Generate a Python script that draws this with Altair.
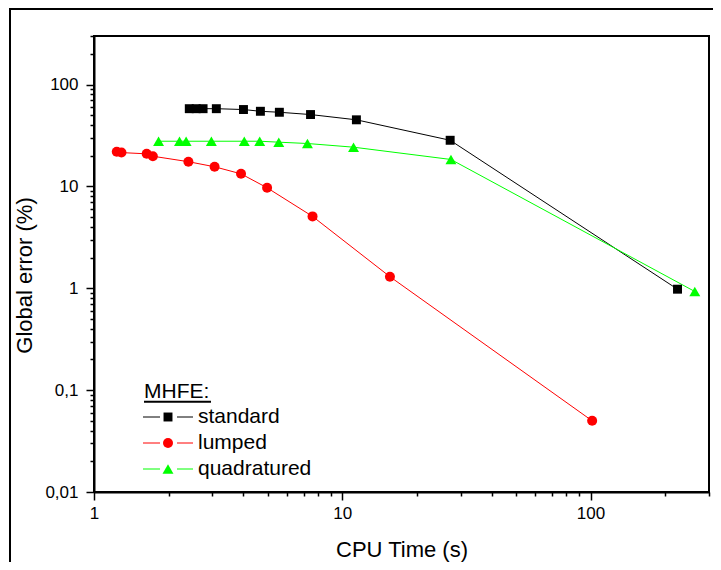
import altair as alt
import pandas as pd

series_names = ["standard", "lumped", "quadratured"]
legend_title = "MHFE:"

standard_t = [2.42, 2.58, 2.75, 3.11, 4.0, 4.68, 5.58, 7.45, 11.4, 27.2, 224]
standard_e = [58.0, 58.0, 58.0, 58.0, 56.9, 54.7, 53.5, 50.8, 45.1, 28.4, 0.98]

lumped_t = [1.235, 1.29, 1.63, 1.726, 2.40, 3.06, 3.91, 4.98, 7.59, 15.56, 101.5]
lumped_e = [21.9, 21.5, 20.9, 19.8, 17.5, 15.6, 13.3, 9.7, 5.08, 1.30, 0.050]

quad_t = [1.82, 2.21, 2.35, 2.97, 4.03, 4.65, 5.55, 7.24, 11.1, 27.4, 263]
quad_e = [27.8, 27.8, 27.8, 27.8, 27.8, 27.8, 27.2, 26.4, 24.3, 18.4, 0.93]

x_ticks = [1, 2, 3, 4, 5, 6, 7, 8, 9, 10, 20, 30, 40, 50, 60, 70, 80, 90, 100, 200, 300]
x_major = [1, 10, 100]
y_ticks = [0.01, 0.02, 0.03, 0.04, 0.05, 0.06, 0.07, 0.08, 0.09,
           0.1, 0.2, 0.3, 0.4, 0.5, 0.6, 0.7, 0.8, 0.9,
           1, 2, 3, 4, 5, 6, 7, 8, 9,
           10, 20, 30, 40, 50, 60, 70, 80, 90,
           100, 200, 300]
y_major = [0.01, 0.1, 1, 10, 100]

rows = []
for name, ts, es in [("standard", standard_t, standard_e),
                     ("lumped", lumped_t, lumped_e),
                     ("quadratured", quad_t, quad_e)]:
    for t, e in zip(ts, es):
        rows.append({"series": name, "t": t, "e": e})
df = pd.DataFrame(rows)

FONT = "Liberation Sans"
colors = ["#000000", "#ff0000", "#00ff00"]
color_scale = alt.Scale(domain=series_names, range=colors)
shape_scale = alt.Scale(domain=series_names, range=["square", "circle", "triangle-up"])
size_scale = alt.Scale(domain=series_names, range=[80, 120, 150])

x_major_js = "[" + ",".join(str(v) for v in x_major) + "]"
y_major_js = "[" + ",".join(str(v) for v in y_major) + "]"

x_axis = alt.Axis(
    values=x_ticks,
    title="CPU Time (s)",
    labelExpr=f"indexof({x_major_js}, datum.value) >= 0 ? toString(datum.value) : ''",
    tickSize={"condition": {"test": f"indexof({x_major_js}, datum.value) >= 0", "value": 8}, "value": 4},
    labelPadding=5,
    labelFontSize=17,
    titleFontSize=22,
    titleFontWeight="normal",
    titleY=57,
    titleBaseline="middle",
    grid=False,
    labelFlush=False,
    labelOverlap=False,
)
y_axis = alt.Axis(
    values=y_ticks,
    title="Global error (%)",
    labelExpr=f"indexof({y_major_js}, datum.value) >= 0 ? replace(toString(datum.value), '.', ',') : ''",
    tickSize={"condition": {"test": f"indexof({y_major_js}, datum.value) >= 0", "value": 8}, "value": 4},
    labelPadding=8,
    labelFontSize=17,
    titleFontSize=22,
    titleFontWeight="normal",
    titleX=-70,
    titleY=239,
    titleAlign="center",
    titleBaseline="middle",
    grid=False,
    labelFlush=False,
    labelOverlap=False,
)

xs = alt.Scale(type="log", domain=[1, 300], nice=False)
ys = alt.Scale(type="log", domain=[0.01, 300], nice=False)

base = alt.Chart(df)
lines = base.mark_line(strokeWidth=1).encode(
    x=alt.X("t:Q", scale=xs, axis=x_axis),
    y=alt.Y("e:Q", scale=ys, axis=y_axis),
    color=alt.Color("series:N", scale=color_scale, legend=None),
)
points = base.mark_point(filled=True, opacity=1).encode(
    x=alt.X("t:Q", scale=xs),
    y=alt.Y("e:Q", scale=ys),
    color=alt.Color("series:N", scale=color_scale, legend=None),
    shape=alt.Shape("series:N", scale=shape_scale, legend=None),
    size=alt.Size("series:N", scale=size_scale, legend=None),
)
data_layer = alt.layer(lines, points)

leg_df = pd.DataFrame({"series": series_names})
ly = alt.Y("series:N", axis=None,
           scale=alt.Scale(type="point", domain=series_names, range=[381, 433], padding=0))
leg_base = alt.Chart(leg_df)
leg_l1 = leg_base.mark_rule(strokeWidth=1).encode(
    x=alt.value(49), x2=alt.value(66), y=ly,
    color=alt.Color("series:N", scale=color_scale, legend=None))
leg_l2 = leg_base.mark_rule(strokeWidth=1).encode(
    x=alt.value(83), x2=alt.value(99), y=ly,
    color=alt.Color("series:N", scale=color_scale, legend=None))
leg_pts = leg_base.mark_point(filled=True, opacity=1).encode(
    x=alt.value(74), y=ly,
    color=alt.Color("series:N", scale=color_scale, legend=None),
    shape=alt.Shape("series:N", scale=shape_scale, legend=None),
    size=alt.Size("series:N", scale=size_scale, legend=None))
leg_txt = leg_base.mark_text(align="left", baseline="middle", fontSize=21, font=FONT, color="black").encode(
    x=alt.value(104), y=ly, text="series:N")
title_df = pd.DataFrame({"t": [legend_title]})
leg_title = alt.Chart(title_df).mark_text(align="left", baseline="middle", fontSize=21, font=FONT, color="black").encode(
    x=alt.value(50), y=alt.value(355.5), text="t:N")
leg_under = alt.Chart(title_df).mark_rule(strokeWidth=2, color="black").encode(
    x=alt.value(50), x2=alt.value(117), y=alt.value(365.7))
frame_left = alt.Chart(title_df).mark_rule(strokeWidth=2, color="black").encode(
    x=alt.value(-84), y=alt.value(-28), y2=alt.value(700))
frame_top = alt.Chart(title_df).mark_rule(strokeWidth=2, color="black").encode(
    x=alt.value(-85), x2=alt.value(800), y=alt.value(-27))

legend_layer = alt.layer(leg_l1, leg_l2, leg_pts, leg_txt, leg_title, leg_under, frame_left, frame_top)

chart = alt.layer(data_layer, legend_layer).resolve_scale(y="independent").properties(
    width=615,
    height=456,
    padding={"left": 86, "top": 28, "right": 4, "bottom": 70},
    autosize=alt.AutoSizeParams(type="none"),
).configure(font=FONT).configure_view(
    stroke="black", strokeWidth=2
).configure_axis(
    domainColor="black", domainWidth=2, tickColor="black", tickWidth=1.5,
    labelColor="black", titleColor="black", labelFont=FONT, titleFont=FONT,
)

chart.save("out.html", embed_options={"renderer": "svg", "actions": False})
